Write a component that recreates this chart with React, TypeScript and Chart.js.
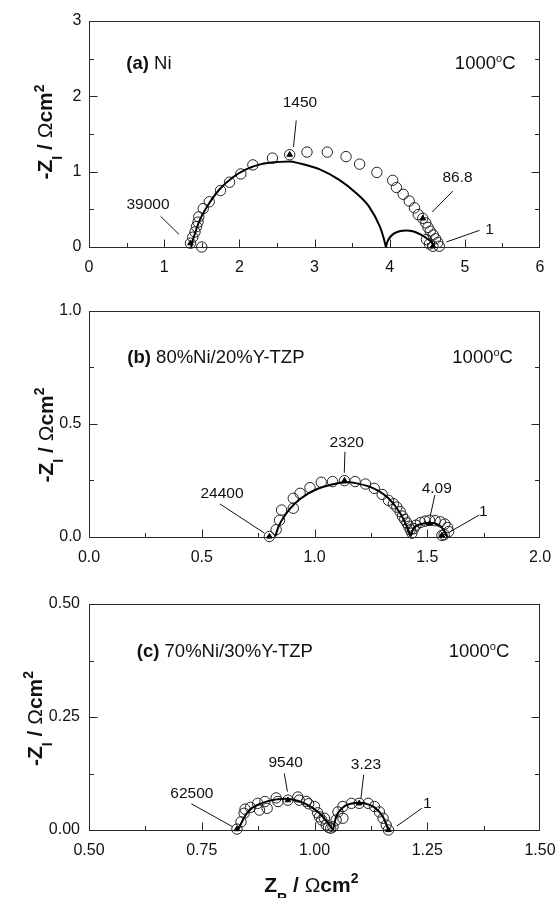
import React, { useEffect, useRef } from "react";
import { Chart, registerables } from "chart.js";

Chart.register(...registerables);

type Pt = [number, number];

// ---------------- (a) Ni ----------------
const niMeasured: Pt[] = [
  [1.5, 0.0], [1.35, 0.05], [1.38, 0.13], [1.41, 0.2], [1.43, 0.27], [1.45, 0.33], [1.46, 0.4],
  [1.52, 0.51], [1.6, 0.6], [1.75, 0.75], [1.87, 0.86], [2.02, 0.97], [2.18, 1.09], [2.44, 1.18],
  [2.67, 1.225], [2.9, 1.26], [3.17, 1.26], [3.42, 1.2], [3.6, 1.1], [3.83, 0.99], [4.04, 0.885],
  [4.09, 0.79], [4.18, 0.7], [4.26, 0.61], [4.33, 0.52], [4.38, 0.43], [4.44, 0.38], [4.48, 0.32],
  [4.51, 0.26], [4.54, 0.21], [4.58, 0.16], [4.61, 0.11], [4.64, 0.06], [4.66, 0.01], [4.49, 0.1],
  [4.53, 0.04], [4.575, 0.01],
];
const niMarked: Pt[] = [[1.35, 0.05], [2.67, 1.225], [4.44, 0.38], [4.575, 0.01]];
const niMarkedFreq = ["39000", "1450", "86.8", "1"];
const niFitHigh: Pt[] = [
  [1.36, 0.0], [1.37, 0.05], [1.41, 0.18], [1.47, 0.35], [1.58, 0.55], [1.74, 0.77], [1.92, 0.93],
  [2.09, 1.03], [2.29, 1.1], [2.54, 1.13], [2.67, 1.135], [2.8, 1.11], [3.07, 1.03], [3.33, 0.89],
  [3.56, 0.71], [3.73, 0.53], [3.87, 0.27], [3.92, 0.12], [3.95, 0.0],
];
const niFitLow: Pt[] = [
  [3.95, 0.0], [3.97, 0.07], [4.0, 0.125], [4.06, 0.18], [4.13, 0.21], [4.22, 0.22], [4.32, 0.205],
  [4.42, 0.16], [4.5, 0.11], [4.56, 0.06], [4.6, 0.0],
];
const niXTicks = [0, 1, 2, 3, 4, 5, 6];
const niXTickLabels = ["0", "1", "2", "3", "4", "5", "6"];
const niYTicks = [0, 1, 2, 3];
const niYTickLabels = ["0", "1", "2", "3"];

// ---------------- (b) 80%Ni/20%Y-TZP ----------------
const n80Measured: Pt[] = [
  [0.8, 0.0], [0.83, 0.03], [0.845, 0.072], [0.854, 0.117], [0.906, 0.125], [0.906, 0.169],
  [0.936, 0.191], [0.98, 0.216], [1.03, 0.24], [1.08, 0.243], [1.133, 0.247], [1.18, 0.243],
  [1.226, 0.232], [1.265, 0.213], [1.3, 0.186], [1.328, 0.16], [1.35, 0.145], [1.365, 0.13],
  [1.38, 0.11], [1.39, 0.09], [1.4, 0.075], [1.41, 0.06], [1.418, 0.045], [1.425, 0.03],
  [1.432, 0.015], [1.44, 0.035], [1.45, 0.05], [1.47, 0.062], [1.49, 0.068], [1.51, 0.072],
  [1.535, 0.07], [1.558, 0.065], [1.578, 0.055], [1.59, 0.04], [1.595, 0.022], [1.575, 0.008],
  [1.565, 0.005],
];
const n80Marked: Pt[] = [[0.8, 0.0], [1.133, 0.247], [1.51, 0.057], [1.565, 0.005]];
const n80MarkedFreq = ["24400", "2320", "4.09", "1"];
const n80FitHigh: Pt[] = [
  [0.826, 0.0], [0.84, 0.043], [0.87, 0.095], [0.914, 0.147], [0.973, 0.191], [1.04, 0.22],
  [1.114, 0.238], [1.15, 0.24], [1.188, 0.235], [1.262, 0.213], [1.328, 0.169], [1.38, 0.103],
  [1.41, 0.043], [1.425, 0.0],
];
const n80FitLow: Pt[] = [
  [1.425, 0.0], [1.44, 0.036], [1.469, 0.054], [1.51, 0.061], [1.55, 0.051], [1.573, 0.029], [1.588, 0.0],
];
const n80XTicks = [0, 0.5, 1, 1.5, 2];
const n80XTickLabels = ["0.0", "0.5", "1.0", "1.5", "2.0"];
const n80YTicks = [0, 0.5, 1];
const n80YTickLabels = ["0.0", "0.5", "1.0"];

// ---------------- (c) 70%Ni/30%Y-TZP ----------------
const n70Measured: Pt[] = [
  [0.828, 0.002], [0.837, 0.018], [0.844, 0.037], [0.846, 0.046], [0.858, 0.05], [0.874, 0.059],
  [0.878, 0.044], [0.89, 0.063], [0.895, 0.048], [0.915, 0.071], [0.919, 0.063], [0.941, 0.066],
  [0.963, 0.073], [0.966, 0.066], [0.982, 0.063], [0.987, 0.058], [1.0, 0.052], [1.007, 0.038],
  [1.011, 0.029], [1.016, 0.022], [1.022, 0.026], [1.026, 0.011], [1.031, 0.006], [1.036, 0.004],
  [1.041, 0.007], [1.048, 0.022], [1.052, 0.04], [1.063, 0.026], [1.063, 0.052], [1.082, 0.059],
  [1.099, 0.059], [1.119, 0.059], [1.133, 0.052], [1.144, 0.04], [1.152, 0.026], [1.159, 0.011],
  [1.164, 0.0],
];
const n70Marked: Pt[] = [[0.828, 0.002], [0.941, 0.066], [1.099, 0.059], [1.164, 0.0]];
const n70MarkedFreq = ["62500", "9540", "3.23", "1"];
const n70FitHigh: Pt[] = [
  [0.83, 0.0], [0.852, 0.04], [0.882, 0.059], [0.919, 0.068], [0.935, 0.069], [0.948, 0.068],
  [0.978, 0.059], [1.008, 0.04], [1.03, 0.015], [1.041, 0.0],
];
const n70FitLow: Pt[] = [
  [1.041, 0.0], [1.048, 0.029], [1.063, 0.05], [1.089, 0.06], [1.1, 0.0605], [1.111, 0.059],
  [1.133, 0.05], [1.152, 0.029], [1.164, 0.0],
];
const n70XTicks = [0.5, 0.75, 1.0, 1.25, 1.5];
const n70XTickLabels = ["0.50", "0.75", "1.00", "1.25", "1.50"];
const n70YTicks = [0, 0.25, 0.5];
const n70YTickLabels = ["0.00", "0.25", "0.50"];

// ---------------- annotation placement (data units) ----------------
const niNoteAt: Pt[] = [[0.785, 0.562], [2.807, 1.91], [4.903, 0.924], [5.328, 0.231]];
const niLeaders: [number, number, number, number][] = [
  [0.953, 0.407, 1.197, 0.168], [2.757, 1.68, 2.72, 1.326], [4.84, 0.743, 4.567, 0.464], [5.195, 0.221, 4.753, 0.066],
];
const n80NoteAt: Pt[] = [[0.59, 0.188], [1.143, 0.416], [1.542, 0.213], [1.749, 0.11]];
const n80Leaders: [number, number, number, number][] = [
  [0.581, 0.144, 0.778, 0.015], [1.135, 0.375, 1.132, 0.282], [1.534, 0.184, 1.512, 0.085], [1.731, 0.095, 1.601, 0.021],
];
const n70NoteAt: Pt[] = [[0.728, 0.08], [0.936, 0.149], [1.114, 0.144], [1.25, 0.059]];
const n70Leaders: [number, number, number, number][] = [
  [0.727, 0.058, 0.817, 0.008], [0.933, 0.125, 0.94, 0.085], [1.109, 0.122, 1.103, 0.07], [1.238, 0.048, 1.183, 0.009],
];

const FF = '"Liberation Sans", Arial, Helvetica, sans-serif';

type Part = { t: string; font: string; dy?: number };

function drawRich(ctx: CanvasRenderingContext2D, parts: Part[], x: number, y: number, align: "left" | "center" | "right") {
  let w = 0;
  for (const p of parts) {
    ctx.font = p.font;
    w += ctx.measureText(p.t).width;
  }
  let cx = align === "left" ? x : align === "center" ? x - w / 2 : x - w;
  ctx.textAlign = "left";
  ctx.textBaseline = "alphabetic";
  for (const p of parts) {
    ctx.font = p.font;
    ctx.fillText(p.t, cx, y + (p.dy || 0));
    cx += ctx.measureText(p.t).width;
  }
}

const B21 = `bold 21px ${FF}`;
const B14 = `bold 14px ${FF}`;
const N21 = `21px ${FF}`;
const T = 18.5;
const titleBold = `bold ${T}px ${FF}`;
const titleNorm = `${T}px ${FF}`;
const supO = `11px ${FF}`;

const yTitleParts: Part[] = [
  { t: "-Z", font: B21 },
  { t: "I", font: B14, dy: 10 },
  { t: " / ", font: B21 },
  { t: "Ω", font: N21 },
  { t: "cm", font: B21 },
  { t: "2", font: B14, dy: -8.5 },
];
const xTitleParts: Part[] = [
  { t: "Z", font: B21 },
  { t: "R", font: B14, dy: 11 },
  { t: " / ", font: B21 },
  { t: "Ω", font: N21 },
  { t: "cm", font: B21 },
  { t: "2", font: B14, dy: -8.5 },
];

type Panel = {
  key: string;
  top: number;
  height: number;
  padTop: number;
  padBottom: number;
  xMin: number; xMax: number; xMajor: number; xMinor: number;
  yMin: number; yMax: number; yMajor: number; yMinor: number;
  xTicks: number[]; xTickLabels: string[];
  yTicks: number[]; yTickLabels: string[];
  yLabelPad: number;
  measured: Pt[]; marked: Pt[]; freq: string[]; fitHigh: Pt[]; fitLow: Pt[];
  noteAt: Pt[]; leaders: [number, number, number, number][];
  tag: string; name: string; tagAt: Pt; tempAt: Pt;
  yTitleX: number; yTitleCY: number;
  xTitle?: boolean;
};

const X_AXIS_H = 36;

const panels: Panel[] = [
  {
    key: "a", top: 0, height: 290, padTop: 21, padBottom: 290 - 247 - X_AXIS_H,
    xMin: 0, xMax: 6, xMajor: 1, xMinor: 0.5, yMin: 0, yMax: 3, yMajor: 1, yMinor: 0.5,
    xTicks: niXTicks, xTickLabels: niXTickLabels, yTicks: niYTicks, yTickLabels: niYTickLabels,
    yLabelPad: 7.5,
    measured: niMeasured, marked: niMarked, freq: niMarkedFreq, fitHigh: niFitHigh, fitLow: niFitLow,
    noteAt: niNoteAt, leaders: niLeaders,
    tag: "(a)", name: " Ni", tagAt: [0.497, 2.366], tempAt: [5.674, 2.366],
    yTitleX: 52, yTitleCY: 132,
  },
  {
    key: "b", top: 290, height: 294, padTop: 20.5, padBottom: 294 - 246.5 - X_AXIS_H,
    xMin: 0, xMax: 2, xMajor: 0.5, xMinor: 0.25, yMin: 0, yMax: 1, yMajor: 0.5, yMinor: 0.25,
    xTicks: n80XTicks, xTickLabels: n80XTickLabels, yTicks: n80YTicks, yTickLabels: n80YTickLabels,
    yLabelPad: 7.5,
    measured: n80Measured, marked: n80Marked, freq: n80MarkedFreq, fitHigh: n80FitHigh, fitLow: n80FitLow,
    noteAt: n80NoteAt, leaders: n80Leaders,
    tag: "(b)", name: " 80%Ni/20%Y-TZP", tagAt: [0.17, 0.769], tempAt: [1.88, 0.769],
    yTitleX: 52.5, yTitleCY: 145,
  },
  {
    key: "c", top: 584, height: 314, padTop: 20, padBottom: 314 - 246 - X_AXIS_H,
    xMin: 0.5, xMax: 1.5, xMajor: 0.25, xMinor: 0.125, yMin: 0, yMax: 0.5, yMajor: 0.25, yMinor: 0.125,
    xTicks: n70XTicks, xTickLabels: n70XTickLabels, yTicks: n70YTicks, yTickLabels: n70YTickLabels,
    yLabelPad: 9,
    measured: n70Measured, marked: n70Marked, freq: n70MarkedFreq, fitHigh: n70FitHigh, fitLow: n70FitLow,
    noteAt: n70NoteAt, leaders: n70Leaders,
    tag: "(c)", name: " 70%Ni/30%Y-TZP", tagAt: [0.606, 0.383], tempAt: [1.432, 0.383],
    yTitleX: 41.5, yTitleCY: 134.5,
    xTitle: true,
  },
];

const toXY = (pts: Pt[]) => pts.map(([x, y]) => ({ x, y }));

function decor(p: Panel) {
  return {
    id: "decor" + p.key,
    beforeDatasetsDraw(chart: any) {
      const { ctx, chartArea: a, scales } = chart;
      const xs = scales.x;
      const ys = scales.y;
      ctx.save();
      ctx.strokeStyle = "#2a2a2a";
      ctx.lineWidth = 1;
      const L = Math.round(a.left) + 0.5;
      const R = Math.round(a.right) - 0.5;
      const Tp = Math.round(a.top) + 0.5;
      const Bt = Math.round(a.bottom) + 0.5;
      ctx.strokeRect(L, Tp, R - L, Bt - Tp);
      ctx.beginPath();
      const nx = Math.round((p.xMax - p.xMin) / p.xMinor);
      for (let i = 1; i < nx; i++) {
        const v = p.xMin + i * p.xMinor;
        const major = Math.abs(v / p.xMajor - Math.round(v / p.xMajor)) < 1e-6;
        const len = major ? 8 : 4.5;
        const px = Math.round(xs.getPixelForValue(v)) + 0.5;
        ctx.moveTo(px, Bt);
        ctx.lineTo(px, Bt - len);
      }
      const ny = Math.round((p.yMax - p.yMin) / p.yMinor);
      for (let i = 1; i < ny; i++) {
        const v = p.yMin + i * p.yMinor;
        const major = Math.abs(v / p.yMajor - Math.round(v / p.yMajor)) < 1e-6;
        const len = major ? 8 : 4.5;
        const py = Math.round(ys.getPixelForValue(v)) + 0.5;
        ctx.moveTo(L, py);
        ctx.lineTo(L + len, py);
        ctx.moveTo(R, py);
        ctx.lineTo(R - len, py);
      }
      ctx.stroke();
      ctx.restore();
    },
    afterDraw(chart: any) {
      const { ctx, scales } = chart;
      const xs = scales.x;
      const ys = scales.y;
      const X = (v: number) => xs.getPixelForValue(v);
      const Y = (v: number) => ys.getPixelForValue(v);
      ctx.save();
      ctx.fillStyle = "#111";
      ctx.strokeStyle = "#111";
      ctx.lineWidth = 1;
      ctx.font = `15.5px ${FF}`;
      ctx.textAlign = "center";
      ctx.textBaseline = "middle";
      p.freq.forEach((txt, i) => {
        const [tx, ty] = p.noteAt[i];
        ctx.fillText(txt, X(tx), Y(ty));
        const [x1, y1, x2, y2] = p.leaders[i];
        ctx.beginPath();
        ctx.moveTo(X(x1), Y(y1));
        ctx.lineTo(X(x2), Y(y2));
        ctx.stroke();
      });
      drawRich(ctx, [{ t: p.tag, font: titleBold }, { t: p.name, font: titleNorm }], X(p.tagAt[0]), Y(p.tagAt[1]), "left");
      drawRich(
        ctx,
        [{ t: "1000", font: titleNorm }, { t: "o", font: supO, dy: -6.5 }, { t: "C", font: titleNorm }],
        X(p.tempAt[0]), Y(p.tempAt[1]), "right"
      );
      ctx.save();
      ctx.translate(p.yTitleX, p.yTitleCY);
      ctx.rotate(-Math.PI / 2);
      drawRich(ctx, yTitleParts, 0, 0, "center");
      ctx.restore();
      if (p.xTitle) {
        drawRich(ctx, xTitleParts, X(0.993), chart.chartArea.bottom + 61.7, "center");
      }
      ctx.restore();
    },
  };
}

function makeChart(canvas: HTMLCanvasElement, p: Panel) {
  const tickFont = { family: FF, size: 16 };
  return new Chart(canvas, {
    type: "scatter",
    data: {
      datasets: [
        {
          label: "marked",
          data: toXY(p.marked),
          pointStyle: "triangle",
          pointRadius: 3.2,
          backgroundColor: "#000",
          borderColor: "#000",
          borderWidth: 1,
          showLine: false,
          order: 0,
          clip: false,
        } as any,
        {
          label: "fit-high",
          data: toXY(p.fitHigh),
          showLine: true,
          borderColor: "#000",
          borderWidth: 2,
          pointRadius: 0,
          cubicInterpolationMode: "monotone",
          order: 1,
          clip: false,
        } as any,
        {
          label: "fit-low",
          data: toXY(p.fitLow),
          showLine: true,
          borderColor: "#000",
          borderWidth: 2,
          pointRadius: 0,
          cubicInterpolationMode: "monotone",
          order: 1,
          clip: false,
        } as any,
        {
          label: "measured",
          data: toXY(p.measured),
          pointStyle: "circle",
          pointRadius: 5.2,
          borderColor: "#222",
          borderWidth: 1,
          backgroundColor: "rgba(0,0,0,0)",
          showLine: false,
          order: 2,
          clip: false,
        } as any,
      ],
    },
    options: {
      responsive: false,
      animation: false,
      devicePixelRatio: 1,
      events: [],
      layout: { padding: { left: 29, right: 15, top: p.padTop, bottom: p.padBottom } },
      plugins: { legend: { display: false }, tooltip: { enabled: false } },
      scales: {
        x: {
          type: "linear",
          min: p.xMin,
          max: p.xMax,
          grid: { display: false, drawTicks: false, tickLength: 0 },
          border: { display: false },
          afterBuildTicks: (s: any) => {
            s.ticks = p.xTicks.map((v) => ({ value: v }));
          },
          afterFit: (s: any) => {
            s.height = X_AXIS_H;
            s.paddingLeft = 0;
            s.paddingRight = 0;
          },
          ticks: {
            autoSkip: false,
            maxRotation: 0,
            padding: 11,
            color: "#111",
            font: tickFont,
            callback: (_v: any, i: number) => p.xTickLabels[i],
          },
        },
        y: {
          type: "linear",
          min: p.yMin,
          max: p.yMax,
          grid: { display: false, drawTicks: false, tickLength: 0 },
          border: { display: false },
          afterBuildTicks: (s: any) => {
            s.ticks = p.yTicks.map((v) => ({ value: v }));
          },
          afterFit: (s: any) => {
            s.width = 60;
            s.paddingTop = 0;
            s.paddingBottom = 0;
          },
          ticks: {
            autoSkip: false,
            padding: p.yLabelPad,
            color: "#111",
            font: tickFont,
            callback: (_v: any, i: number) => p.yTickLabels[i],
          },
        },
      },
    } as any,
    plugins: [decor(p)],
  });
}

export default function App() {
  const refs = useRef<(HTMLCanvasElement | null)[]>([]);
  useEffect(() => {
    const charts = panels.map((p, i) => makeChart(refs.current[i] as HTMLCanvasElement, p));
    return () => charts.forEach((c) => c.destroy());
  }, []);
  return (
    <div style={{ position: "absolute", left: 0, top: 0, width: 555, height: 898, background: "#fff", overflow: "hidden" }}>
      {panels.map((p, i) => (
        <canvas
          key={p.key}
          ref={(el) => {
            refs.current[i] = el;
          }}
          width={555}
          height={p.height}
          style={{ position: "absolute", left: 0, top: p.top, width: 555, height: p.height }}
        />
      ))}
    </div>
  );
}
